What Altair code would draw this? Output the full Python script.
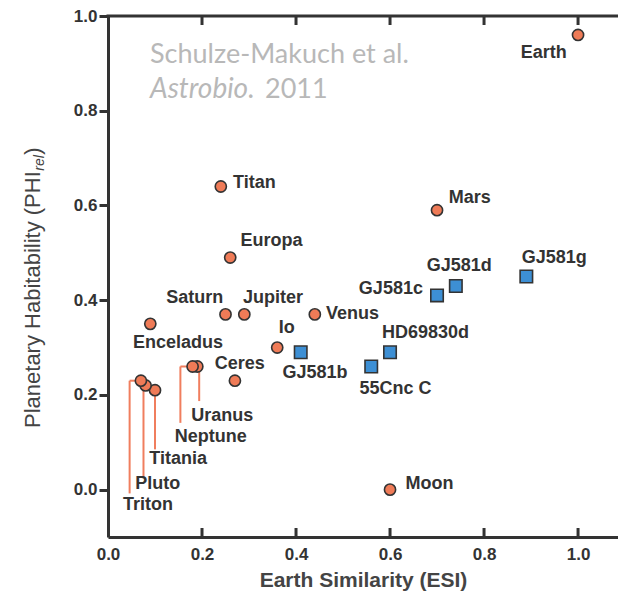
import altair as alt
import pandas as pd

# ---- data: Earth Similarity Index (ESI) vs relative Planetary Habitability (PHI_rel)
names = ["Earth", "Mars", "Titan", "Europa", "Saturn", "Jupiter", "Venus",
         "Enceladus", "Io", "Ceres", "Uranus", "Neptune", "Titania", "Pluto",
         "Triton", "Moon",
         "GJ581g", "GJ581d", "GJ581c", "GJ581b", "HD69830d", "55Cnc C"]
esi = [1.00, 0.70, 0.24, 0.26, 0.25, 0.29, 0.44,
       0.09, 0.36, 0.27, 0.19, 0.18, 0.10, 0.08,
       0.07, 0.60,
       0.89, 0.74, 0.70, 0.41, 0.60, 0.56]
phi = [0.96, 0.59, 0.64, 0.49, 0.37, 0.37, 0.37,
       0.35, 0.30, 0.23, 0.26, 0.26, 0.21, 0.22,
       0.23, 0.00,
       0.45, 0.43, 0.41, 0.29, 0.29, 0.26]
kind = ["Solar System"] * 16 + ["Exoplanet"] * 6

# label anchors in data units (x, y, horizontal alignment)
label_at = {
    "Earth": (0.976, 0.912, "right"),
    "Mars": (0.725, 0.605, "left"),
    "Titan": (0.266, 0.636, "left"),
    "Europa": (0.282, 0.514, "left"),
    "Saturn": (0.124, 0.395, "left"),
    "Jupiter": (0.287, 0.395, "left"),
    "Venus": (0.464, 0.360, "left"),
    "Enceladus": (0.053, 0.298, "left"),
    "Io": (0.363, 0.330, "left"),
    "Ceres": (0.227, 0.254, "left"),
    "Uranus": (0.177, 0.145, "left"),
    "Neptune": (0.142, 0.100, "left"),
    "Titania": (0.088, 0.054, "left"),
    "Pluto": (0.058, 0.002, "left"),
    "Triton": (0.032, -0.042, "left"),
    "Moon": (0.633, 0.002, "left"),
    "GJ581g": (0.880, 0.478, "left"),
    "GJ581d": (0.678, 0.462, "left"),
    "GJ581c": (0.670, 0.412, "right"),
    "GJ581b": (0.371, 0.235, "left"),
    "HD69830d": (0.583, 0.321, "left"),
    "55Cnc C": (0.535, 0.201, "left"),
}

# leader lines tying crowded labels to their markers (x1, y1, x2, y2)
leaders = [
    (0.046, 0.23, 0.046, -0.008),
    (0.046, 0.23, 0.068, 0.23),
    (0.0755, 0.22, 0.0755, 0.025),
    (0.100, 0.21, 0.100, 0.085),
    (0.154, 0.26, 0.154, 0.141),
    (0.154, 0.26, 0.176, 0.26),
    (0.194, 0.26, 0.194, 0.187),
]

tick_values = [0.0, 0.2, 0.4, 0.6, 0.8, 1.0]
inner_ticks = [0.2, 0.4, 0.6, 0.8, 1.0]

W, H = 510, 521
INK = "#333333"
ORANGE = "#ef7b57"
BLUE = "#3d8fd4"
LEADER = "#f07e5e"
FONT = "Liberation Sans"

pts = pd.DataFrame({"name": names, "esi": esi, "phi": phi, "kind": kind})
lab = pd.DataFrame([
    {"name": n, "lx": v[0], "ly": v[1], "al": v[2]} for n, v in label_at.items()
])
lead = pd.DataFrame(leaders, columns=["x1", "y1", "x2", "y2"])
ticks = pd.DataFrame({"t": inner_ticks})
one = pd.DataFrame({"k": [0]})

xs = alt.Scale(domain=[0, 1.085], nice=False, zero=False)
ys = alt.Scale(domain=[-0.1, 1.0], nice=False, zero=False)

x_axis = alt.Axis(
    values=tick_values, format=".1f", grid=False, ticks=False, tickSize=0,
    domainWidth=3, domainColor=INK, labelFont=FONT, labelFontSize=17,
    labelFontWeight="bold", labelColor=INK, labelPadding=9, labelFlush=False,
    labelOverlap=False, title="Earth Similarity (ESI)", titleFont=FONT,
    titleFontSize=21, titleFontWeight="bold", titleColor="#444444",
    titlePadding=7,
)
y_axis = alt.Axis(
    values=tick_values, format=".1f", grid=False, ticks=True, tickSize=9,
    tickWidth=3, tickColor=INK, domainWidth=3, domainColor=INK,
    labelFont=FONT, labelFontSize=17, labelFontWeight="bold", labelColor=INK,
    labelPadding=2, labelFlush=False, labelOverlap=False, title=None,
)

points = alt.Chart(pts).mark_point(
    filled=True, opacity=1, stroke=INK, strokeWidth=1.6
).encode(
    x=alt.X("esi:Q", scale=xs, axis=x_axis),
    y=alt.Y("phi:Q", scale=ys, axis=y_axis),
    shape=alt.Shape("kind:N", scale=alt.Scale(domain=["Solar System", "Exoplanet"],
                                              range=["circle", "square"]), legend=None),
    fill=alt.Fill("kind:N", scale=alt.Scale(domain=["Solar System", "Exoplanet"],
                                            range=[ORANGE, BLUE]), legend=None),
    size=alt.Size("kind:N", scale=alt.Scale(domain=["Solar System", "Exoplanet"],
                                            range=[125, 155]), legend=None),
)

leader_rules = alt.Chart(lead).mark_rule(color=LEADER, strokeWidth=2).encode(
    x=alt.X("x1:Q", scale=xs), y=alt.Y("y1:Q", scale=ys),
    x2="x2:Q", y2="y2:Q",
)


def labels(align):
    return alt.Chart(lab).transform_filter(
        alt.datum.al == align
    ).mark_text(
        align=align, baseline="alphabetic", font=FONT, fontSize=18,
        fontWeight="bold", color=INK,
    ).encode(
        x=alt.X("lx:Q", scale=xs), y=alt.Y("ly:Q", scale=ys), text="name:N",
    )


top_ticks = alt.Chart(ticks).mark_rule(color=INK, strokeWidth=3).encode(
    x=alt.X("t:Q", scale=xs), y=alt.value(0), y2=alt.value(9),
)
bottom_ticks = alt.Chart(ticks).mark_rule(color=INK, strokeWidth=3).encode(
    x=alt.X("t:Q", scale=xs), y=alt.value(H - 9), y2=alt.value(H),
)
top_line = alt.Chart(one).mark_rule(color=INK, strokeWidth=3).encode(
    x=alt.value(-1.5), x2=alt.value(W), y=alt.value(0),
)

# vertical y-axis title with italic subscript
YT_X, YT_Y, YT_SIZE = -68, 412, 22
yt_main = alt.Chart(one).mark_text(
    angle=270, align="left", baseline="alphabetic", font=FONT,
    fontSize=YT_SIZE, color="#444444",
).encode(x=alt.value(YT_X), y=alt.value(YT_Y),
         text=alt.value("Planetary Habitability (PHI"))
main_w = 11.65 * YT_SIZE
yt_sub = alt.Chart(one).mark_text(
    angle=270, align="left", baseline="alphabetic", font=FONT,
    fontSize=14, fontStyle="italic", color="#444444",
).encode(x=alt.value(YT_X + 4), y=alt.value(YT_Y - main_w - 1),
         text=alt.value("rel"))
yt_close = alt.Chart(one).mark_text(
    angle=270, align="left", baseline="alphabetic", font=FONT,
    fontSize=YT_SIZE, color="#444444",
).encode(x=alt.value(YT_X), y=alt.value(YT_Y - main_w - 17),
         text=alt.value(")"))

# citation watermark
CITE = "#b8b8b8"
cite1 = alt.Chart(one).mark_text(
    align="left", baseline="alphabetic", font="Lato", fontSize=27, color=CITE,
).encode(x=alt.value(42), y=alt.value(47), text=alt.value("Schulze-Makuch et al."))
cite2 = alt.Chart(one).mark_text(
    align="left", baseline="alphabetic", font="Lato", fontSize=28,
    fontStyle="italic", color=CITE,
).encode(x=alt.value(42), y=alt.value(82), text=alt.value("Astrobio."))
cite3 = alt.Chart(one).mark_text(
    align="left", baseline="alphabetic", font="Lato", fontSize=27, color=CITE,
).encode(x=alt.value(157), y=alt.value(82), text=alt.value("2011"))

chart = alt.layer(
    leader_rules, points, labels("left"), labels("right"),
    top_ticks, bottom_ticks, top_line,
    yt_main, yt_sub, yt_close, cite1, cite2, cite3,
).properties(
    width=W, height=H,
    autosize=alt.AutoSizeParams(type="none"),
    padding={"left": 108, "top": 16, "right": 0, "bottom": 56},
).configure_view(stroke=None).configure(background="white")

chart.save("out.html", embed_options={"renderer": "svg", "actions": False})
